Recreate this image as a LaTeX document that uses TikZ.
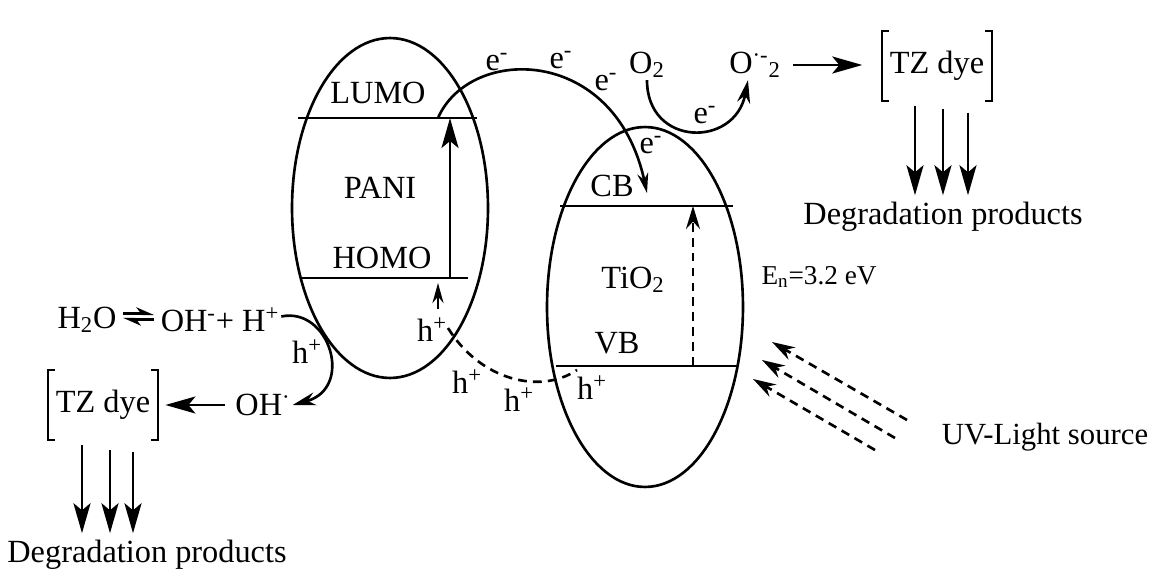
\documentclass[tikz,border=0pt]{standalone}
\usepackage{fontspec}
\setmainfont{Liberation Serif}
\usetikzlibrary{arrows.meta,positioning,shapes.geometric}
\newcommand\bigfs{\fontsize{18.4}{22}\selectfont}
\newcommand\midfs{\fontsize{17.5}{21}\selectfont}
\newcommand\smallfs{\fontsize{15.5}{18}\selectfont}
\tikzset{
  >={Stealth[length=6mm,width=3.4mm,inset=1.4mm]},
  band/.style={ellipse,draw,line width=1.5pt,inner sep=0pt},
  lvl/.style={line width=1.5pt},
  lab/.style={font=\bigfs,inner sep=1pt},
  dye/.style={lab,inner xsep=4.5pt,minimum height=1.37cm},
  brk/.style={line width=1.2pt},
  arr/.style={->,line width=1.5pt},
  tarr/.style={-{Stealth[length=4mm,width=2.2mm]},line width=1.5pt},
  carr/.style={-{Stealth[length=4.6mm,width=2.6mm]},line width=1.5pt},
  darr/.style={-{Stealth[length=4.6mm,width=2.8mm]},line width=1.5pt,dash pattern=on 5pt off 3.5pt},
  dline/.style={line width=1.5pt,dash pattern=on 5pt off 3.5pt},
  eq/.style={-{Stealth[harpoon,length=3mm,width=2.6mm]},line width=1.7pt,shorten <=2.5pt,shorten >=2.5pt},
}

\begin{document}
\begin{tikzpicture}[x=0.02cm,y=-0.02cm]
\useasboundingbox (0,0) rectangle (1161,571);

% PANI and TiO2
\node[band,minimum width=3.92cm,minimum height=6.8cm] (pani) at (390,208) {};
\node[band,minimum width=3.92cm,minimum height=7.2cm] (tio) at (645,307) {};

\coordinate (lumoL) at (298,118); \coordinate (lumoR) at (477,118);
\coordinate (homoL) at (302,278); \coordinate (homoR) at (468,278);
\coordinate (cbL) at (560,206); \coordinate (cbR) at (733,206);
\coordinate (vbL) at (556,366); \coordinate (vbR) at (737,366);
\draw[lvl] (lumoL) -- (lumoR);
\draw[lvl] (homoL) -- (homoR);
\draw[lvl] (cbL) -- (cbR);
\draw[lvl] (vbL) -- (vbR);

\node[lab] (lumo) at (378,93) {LUMO};
\node[lab] (paniT) at (380,188) {PANI};
\node[lab] (homo) at (382,258) {HOMO};
\node[lab] (cb) at (612,186) {CB};
\node[lab] (tiT) at (633,280) {TiO\textsubscript{2}};
\node[lab] (vb) at (617,343) {VB};
\node[lab,font=\smallfs] (gap) at (819,277) {E\textsubscript{n}=3.2 eV};

% excitation
\coordinate (exH) at (450,278); \coordinate (exL) at (450,118);
\draw[arr] (exH) -- (exL);
\coordinate (tvb) at (693,366); \coordinate (tcb) at (693,206);
\draw[darr] (tvb) -- (tcb);

% holes
\node[lab] (hA) at (432,330) {h\textsuperscript{+}};
\coordinate (hlo) at (438,309); \coordinate (hup) at (438,283);
\draw[tarr] (hlo) -- (hup);
\coordinate (hs) at (448,328); \coordinate (he) at (577,370);
\draw[dline] (hs) .. controls (480,380) and (540,395) .. (he);
\node[lab] (hB) at (467,382) {h\textsuperscript{+}};
\node[lab] (hC) at (519,400) {h\textsuperscript{+}};
\node[lab] (hD) at (592,388) {h\textsuperscript{+}};

% electrons
\coordinate (lumoE) at (438,118); \coordinate (cbin) at (647,193);
\draw[tarr] (lumoE) .. controls (470,45) and (615,45) .. (cbin);
\node[lab] (eA) at (497,62) {e\textsuperscript{-}};
\node[lab] (eB) at (561,60) {e\textsuperscript{-}};
\node[lab] (eC) at (606,82) {e\textsuperscript{-}};
\node[lab] (eD) at (651,145) {e\textsuperscript{-}};

% oxygen side
\node[lab] (o2) at (647,65) {O\textsubscript{2}};
\node[lab] (sox) at (755,65) {O\textsuperscript{·-}\textsubscript{2}};
\draw[carr] (o2.south) .. controls +(0,67) and +(-13,68) .. ([xshift=-4pt]sox.south);
\node[lab] (eE) at (705,115) {e\textsuperscript{-}};
\node[dye] (dyeA) at (937,66) {TZ dye};
\draw[brk] ([xshift=4pt]dyeA.north west) -| (dyeA.south west) -- ++(4pt,0);
\draw[brk] ([xshift=-4pt]dyeA.north east) -| (dyeA.south east) -- ++(-4pt,0);
\draw[arr,shorten <=6pt,shorten >=11pt] (sox.east) -- (sox.east -| dyeA.west);
\node[lab,outer ysep=3pt] (degA) at (943,217) {Degradation products};
\foreach \dx/\dy in {-22/5,6/8,31/12}
  \draw[arr] ([shift={(\dx,\dy)}]dyeA.south) -- ([xshift=\dx*0.02cm]dyeA.south |- degA.north);

% water side
\node[lab] (h2o) at (87,320) {H\textsubscript{2}O};
\node[lab] (ohH) at (220,320) {OH\textsuperscript{-}+ H\textsuperscript{+}};
\draw[eq] ([yshift=3.5pt]h2o.east) -- ([yshift=3.5pt]ohH.west);
\draw[eq] ([yshift=0.5pt]ohH.west) -- ([yshift=0.5pt]h2o.east);
\node[lab] (ohR) at (263,405) {OH\textsuperscript{·}};
\node[lab] (hE) at (307,352) {h\textsuperscript{+}};
\draw[carr] ([yshift=2pt]ohH.east) .. controls +(48,-10) and +(62,-17) .. (ohR.east);
\node[dye,minimum height=1.4cm] (dyeB) at (103,405) {TZ dye};
\draw[brk] ([xshift=4pt]dyeB.north west) -| (dyeB.south west) -- ++(4pt,0);
\draw[brk] ([xshift=-4pt]dyeB.north east) -| (dyeB.south east) -- ++(-4pt,0);
\draw[arr,shorten >=4pt,shorten <=5pt] (ohR.west) -- (dyeB.east);
\node[lab,outer ysep=3pt] (degB) at (147,555) {Degradation products};
\foreach \dx/\dy in {-21/5,7/10,30/12}
  \draw[arr] ([shift={(\dx,\dy)}]dyeB.south) -- ([xshift=\dx*0.02cm]dyeB.south |- degB.north);

% UV light
\node[lab,font=\midfs] (uv) at (1045,437) {UV-Light source};
\coordinate (uvs1) at (907,420); \coordinate (uvt1) at (772,342);
\coordinate (uvs2) at (895,438); \coordinate (uvt2) at (762,360);
\coordinate (uvs3) at (875,450); \coordinate (uvt3) at (753,379);
\draw[darr] (uvs1) -- (uvt1);
\draw[darr] (uvs2) -- (uvt2);
\draw[darr] (uvs3) -- (uvt3);
\end{tikzpicture}
\end{document}
